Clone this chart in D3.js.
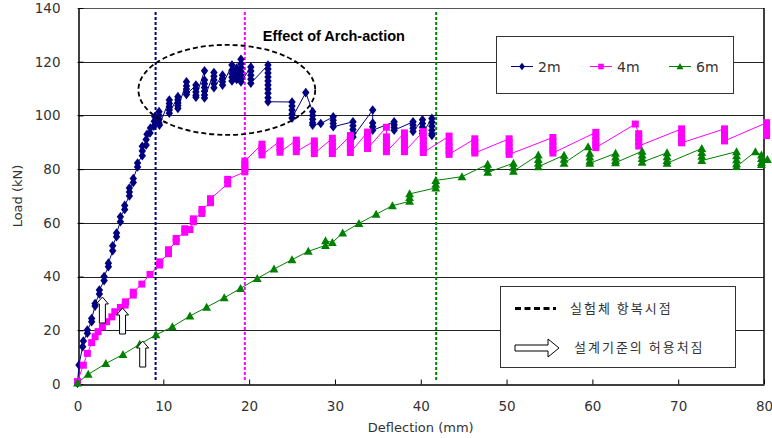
<!DOCTYPE html>
<html><head><meta charset="utf-8">
<script src="https://cdn.jsdelivr.net/npm/d3@7"></script>
<style>body{margin:0;background:#fff}svg{display:block}</style>
</head><body>
<svg id="c" width="772" height="438"></svg>
<script>
const xTicks = [0,10,20,30,40,50,60,70,80];
const yTicks = [0,20,40,60,80,100,120,140];
const seriesNames = ["2m","4m","6m"];
const seriesColors = ["#000080","#FF00FF","#008000"];

const series2m = [[0,0.3],[0.17,7.1],[0.6,13.9],[0.68,16],[1.15,18.9],[1.15,20.1],[1.65,23.2],[1.65,24.4],[2.05,29],[2.05,30],[2.55,33.5],[2.55,35],[3.1,38.5],[3.1,40],[3.6,43.7],[3.6,45],[4.1,49.6],[4.1,51.5],[4.55,54.8],[4.55,56.2],[5.0,60.4],[5.0,62.3],[5.5,65],[5.5,66.5],[6.05,70],[6.05,71.5],[6.05,73],[6.5,75],[6.5,76.5],[7.0,80.8],[7.0,82.3],[7.55,85],[7.55,86.8],[7.55,88.5],[8.0,89],[8.0,91],[8.1,93],[8.45,93.5],[8.5,95.3],[8.9,96],[8.95,97.8],[9.0,99.5],
[9.5,101.4],[9.5,100],[9.5,98.6],[9.5,97.2],[9.55,96.4],
[10.7,105.7],[10.7,104.4],[10.7,103.2],[10.7,102],[10.7,100.8],
[11.7,107],[11.7,105.8],[11.7,104.6],[11.7,103.6],[11.7,102.6],
[12.7,112.5],[12.7,111],[12.7,109.8],[12.7,108.6],[12.7,107.8],
[13.8,111.3],[13.8,110],[13.8,108.7],[13.8,107.5],[13.8,106.8],
[14.8,116.6],[14.8,113.2],[14.8,111.8],[14.8,110.4],[14.8,109],[14.8,107.6],[14.8,106.5],
[15.9,116],[15.9,114.6],[15.9,113.2],[15.9,111.8],[15.9,110.3],
[16.9,115],[16.9,113.8],[16.9,112.5],[16.9,111.3],
[18.0,118.8],[18.0,116.8],[18.0,115.5],[18.0,114.2],[18.0,112.8],
[18.55,117.6],[18.55,116.2],[18.55,114.8],[18.55,113.4],
[19.05,120.9],[19.05,119.2],[19.05,117.8],[19.05,116.4],[19.05,115],[19.05,113.6],[19.05,112.5],
[20.2,118],[20.2,116.5],[20.2,115],[20.2,113.5],[20.2,112],
[22.2,118.8],[22.2,117.3],[22.2,115.8],[22.2,114.3],[22.2,112.8],[22.2,111.3],[22.2,109.8],[22.2,108.3],[22.2,106.6],[22.2,105.1],
[25.0,105],[25.0,103.5],[25.0,102],[25.0,100.5],[25.0,99],
[26.6,108.5],
[27.4,101.4],[27.4,100],[27.4,98.6],[27.4,97.3],[27.4,96.4],
[28.35,97],
[29.8,99.5],[29.8,98.2],[29.8,97],[29.8,95.8],
[32.1,97.6],[32.1,96.2],[32.1,94.8],[32.1,93.4],[32.1,92],
[34.4,102],[34.4,97.2],[34.4,95.8],[34.4,94.5],
[36.9,97.6],[36.9,96.5],[36.9,95.5],[36.9,94.5],
[39.1,97.6],[39.1,96.4],[39.1,95.2],[39.1,94],
[40.2,98.4],[40.2,97],[40.2,95.6],[40.2,94.3],[40.2,93.3],
[41.3,98.9],[41.3,97.5],[41.3,96],[41.3,94.5],[41.3,93.2],[41.3,92.5]];

const series4m = [[0,0.9],[0.68,7],[1.15,11.4],[1.65,15.4],[2.05,17.6],[2.4,19.5],[2.9,21.3],[3.4,23.2],[4.0,25],[4.35,26.9],[5.0,28.5],[5.55,29.4],[5.6,30.6],[6.5,33.1],[6.5,34.2],[7.5,37.2],[8.45,40.8],[9.55,44.3],[9.6,45.5],[10.6,48.5],[10.6,50],[11.5,53],[11.5,54.2],[12.5,56.5],[12.5,57.8],[13.1,57.5],[13.5,60.4],[13.5,61.5],[14.5,63.5],[14.5,65],[15.5,67.5],[15.5,69],[17.5,74.5],[17.5,76.2],
[19.5,79],[19.5,80.3],[19.5,81.6],[19.5,83],
[21.5,89.3],[21.5,88],[21.5,86.7],[21.5,85.3],
[23.6,90.5],[23.6,89.2],[23.6,87.8],[23.6,86.3],
[25.5,90.8],[25.5,89.5],[25.5,88],[25.5,86.5],
[27.6,90.5],[27.6,89],[27.6,87.5],[27.6,85.8],
[29.7,91.5],[29.7,90],[29.7,88.5],[29.7,87],[29.7,85.8],
[31.8,92.5],[31.8,91],[31.8,89.5],[31.8,88],[31.8,86.2],
[33.8,93.8],[33.8,92.3],[33.8,90.8],[33.8,89.3],[33.8,87.7],
[36.0,95.6],[36.0,92],[36.0,90.5],[36.0,89],[36.0,87.5],[36.0,86.5],
[38.1,93.5],[38.1,92],[38.1,90.5],[38.1,89],[38.1,87.5],[38.1,86.5],
[40.3,94],[40.3,92],[40.3,90.5],[40.3,89],[40.3,87.5],[40.3,86.2],
[43.3,92.3],[43.3,90],[43.3,88.5],[43.3,87],[43.3,85.5],
[46.3,91.3],[46.3,89.8],[46.3,88.3],[46.3,86.8],[46.3,86],
[50.3,91.3],[50.3,89.8],[50.3,88.3],[50.3,86.8],[50.3,85.5],
[55.4,91.8],[55.4,90.3],[55.4,88.8],[55.4,87.3],[55.4,86],
[60.4,93.7],[60.4,92.2],[60.4,90.7],[60.4,89.2],[60.4,88],
[65.0,96.8],
[65.4,93.2],[65.4,91.8],[65.4,90.3],[65.4,88.6],
[70.4,95],[70.4,93.5],[70.4,92],[70.4,90.5],[70.4,89.8],
[75.4,95],[75.4,93.5],[75.4,92],[75.4,90.5],
[80.3,97.3],[80.3,95.5],[80.3,94],[80.3,92.5]];

const series6m = [[0,0.4],[1.25,3.6],[3.3,7.6],[5.3,11],[7.25,14.8],[9.15,18.3],[11.05,21.3],[13.1,25.3],[15.05,28.6],[17.1,32.1],[19.0,35.6],[20.95,39.3],[22.9,42.8],[25.0,46.3],[26.9,49.4],[28.9,51.6],[28.9,53.3],[29.7,52.7],[30.9,56.2],[32.8,59.8],[34.8,63.2],[36.7,66.4],[38.7,68],[38.7,69.4],[38.7,70.8],[41.75,73],[41.75,74.4],[41.75,75.8],[44.8,77.2],
[47.8,81.8],[47.8,80.3],[47.8,78.8],
[50.8,82.2],[50.8,80.7],[50.8,79.2],
[53.7,85.3],[53.7,83.6],[53.7,82.2],[53.7,80.9],
[56.7,85.2],[56.7,83.7],[56.7,82.2],
[59.5,88.3],
[59.7,85.9],[59.7,84.5],[59.7,83],[59.7,82.2],
[62.7,85.9],[62.7,84.5],[62.7,83.2],[62.7,82.4],
[65.8,86.7],[65.8,85.3],[65.8,84],[65.8,82.6],
[68.7,86.1],[68.7,84.6],[68.7,83.2],[68.7,82.2],
[72.75,87.7],[72.75,86.2],[72.75,84.8],[72.75,83.2],
[76.8,86.5],[76.8,85],[76.8,83.5],[76.8,82],[76.8,81],
[79.0,86.5],
[79.7,85.3],[79.7,84],[79.7,82.5],[79.7,81.7],
[80.4,83.6]];

const yieldDeflection = [9.1, 19.5, 41.8];           // 실험체 항복시점
const allowDeflection = [[2.9, 32.4],[5.25, 28.3],[7.6, 16]]; // [deflection, arrow tip load]
const archEllipse = {cx:17.4, cy:109.5, rx:10.3, ry:16.75};
const archLabel = "Effect of Arch-action";
const legend2Texts = ["실험체 항복시점","설계기준의 허용처짐"];

const svg = d3.select("#c");
const x = d3.scaleLinear().domain([0,80]).range([77.5,764]);
const y = d3.scaleLinear().domain([0,140]).range([384,8]);
const font = "'DejaVu Sans', sans-serif";

// gridlines
svg.append("g").selectAll("line").data(yTicks.filter(d=>d>0 && d<140)).join("line")
  .attr("x1",x(0)).attr("x2",x(80)).attr("y1",d=>Math.round(y(d))+0.5).attr("y2",d=>Math.round(y(d))+0.5)
  .attr("stroke","#222").attr("stroke-width",1);
// frame top/right
svg.append("line").attr("x1",x(0)).attr("x2",x(80)).attr("y1",Math.round(y(140))+0.5).attr("y2",Math.round(y(140))+0.5).attr("stroke","#555");
svg.append("line").attr("x1",x(80)).attr("x2",x(80)).attr("y1",y(140)).attr("y2",y(0)).attr("stroke","#000").attr("stroke-width",1.5);

// axes
const xAxis = d3.axisBottom(x).tickValues(xTicks).tickSizeInner(-5).tickSizeOuter(0).tickPadding(17);
const gx = svg.append("g").attr("transform",`translate(0,${Math.round(y(0))+0.5})`).call(xAxis);
gx.select(".domain").attr("stroke","#000").attr("stroke-width",1.5);
gx.selectAll(".tick line").attr("stroke","#000");
gx.selectAll("text").attr("font-family",font).attr("font-size",13.5).attr("fill","#333");
const yAxis = d3.axisLeft(y).tickValues(yTicks).tickSizeInner(-5).tickSizeOuter(0).tickPadding(18);
const gy = svg.append("g").attr("transform",`translate(${Math.round(x(0))+0.5},0)`).call(yAxis);
gy.select(".domain").attr("stroke","#000").attr("stroke-width",1.5);
gy.selectAll(".tick line").attr("stroke","#000");
gy.selectAll("text").attr("font-family",font).attr("font-size",13.5).attr("fill","#333");

svg.append("text").attr("x",(x(0)+x(80))/2).attr("y",432).attr("text-anchor","middle")
  .attr("font-family",font).attr("font-size",13).attr("fill","#333").text("Deflection (mm)");
svg.append("text").attr("transform",`translate(22,${(y(0)+y(140))/2}) rotate(-90)`).attr("text-anchor","middle")
  .attr("font-family",font).attr("font-size",13).attr("fill","#333").text("Load (kN)");

// yield lines
svg.append("g").selectAll("line").data(yieldDeflection).join("line")
  .attr("x1",d=>x(d)).attr("x2",d=>x(d)).attr("y1",y(138.5)).attr("y2",y(1.5))
  .attr("stroke",(d,i)=>seriesColors[i]).attr("stroke-width",2).attr("stroke-dasharray","3,2");

// markers
function markerPath(i){
  if(i===0) return "M0,-4.8L3.7,0L0,4.8L-3.7,0Z";
  if(i===1) return "M-3.5,-3.5H3.5V3.5H-3.5Z";
  return "M0,-4.5L4.4,3.5H-4.4Z";
}
const allSeries = [series2m, series4m, series6m];
const line = d3.line().x(d=>x(d[0])).y(d=>y(d[1]));
allSeries.forEach((s,i)=>{
  const g = svg.append("g");
  g.append("path").attr("d",line(s)).attr("fill","none").attr("stroke",seriesColors[i]).attr("stroke-width",1);
  g.selectAll("path.m").data(s).join("path").attr("class","m")
    .attr("transform",d=>`translate(${x(d[0])},${y(d[1])})`)
    .attr("d",markerPath(i)).attr("fill",seriesColors[i]);
});

// arch ellipse
svg.append("ellipse").attr("cx",x(archEllipse.cx)).attr("cy",y(archEllipse.cy))
  .attr("rx",x(archEllipse.rx)-x(0)).attr("ry",y(0)-y(archEllipse.ry))
  .attr("fill","none").attr("stroke","#000").attr("stroke-width",1.8).attr("stroke-dasharray","5,3");
svg.append("text").attr("x",x(21.6)).attr("y",y(127.8)).attr("font-family","'Liberation Sans', Arial, sans-serif")
  .attr("font-weight","bold").attr("font-size",14.5).attr("fill","#000").text(archLabel);

// allowable deflection arrows (up)
function upArrow(cx, ty){
  return `M${cx},${ty}L${cx+6},${ty+7}H${cx+3}V${ty+26}H${cx-3}V${ty+7}H${cx-6}Z`;
}
svg.append("g").selectAll("path").data(allowDeflection).join("path")
  .attr("d",d=>upArrow(x(d[0]),y(d[1]))).attr("fill","#fff").attr("stroke","#000").attr("stroke-width",1);

// legend 1
const l1 = svg.append("g");
l1.append("rect").attr("x",496.5).attr("y",36.5).attr("width",237).attr("height",57).attr("fill","#fff").attr("stroke","#333");
const l1x = [511,590,669];
seriesNames.forEach((n,i)=>{
  l1.append("line").attr("x1",l1x[i]).attr("x2",l1x[i]+22).attr("y1",66.5).attr("y2",66.5).attr("stroke",seriesColors[i]);
  l1.append("path").attr("transform",`translate(${l1x[i]+11},66.5) scale(0.8)`).attr("d",markerPath(i)).attr("fill",seriesColors[i]);
  l1.append("text").attr("x",l1x[i]+27).attr("y",72).attr("font-family",font).attr("font-size",14).attr("fill","#333").text(n);
});

// legend 2
const l2 = svg.append("g");
l2.append("rect").attr("x",500.5).attr("y",286.5).attr("width",235).attr("height",81).attr("fill","#fff").attr("stroke","#333");
l2.append("line").attr("x1",515).attr("x2",556).attr("y1",308.5).attr("y2",308.5).attr("stroke","#000").attr("stroke-width",3).attr("stroke-dasharray","6,3.5");
l2.append("path").attr("d","M515,345V351H548V357L559,348L548,339V345Z").attr("fill","#fff").attr("stroke","#000").attr("stroke-width",1);
const kfont = "'Noto Sans CJK KR', sans-serif";
l2.append("text").attr("x",570).attr("y",313).attr("font-family",kfont).attr("font-size",13).attr("letter-spacing",2).attr("fill","#333").text(legend2Texts[0]);
l2.append("text").attr("x",574).attr("y",352).attr("font-family",kfont).attr("font-size",13).attr("letter-spacing",2).attr("fill","#333").text(legend2Texts[1]);
</script>
</body></html>
